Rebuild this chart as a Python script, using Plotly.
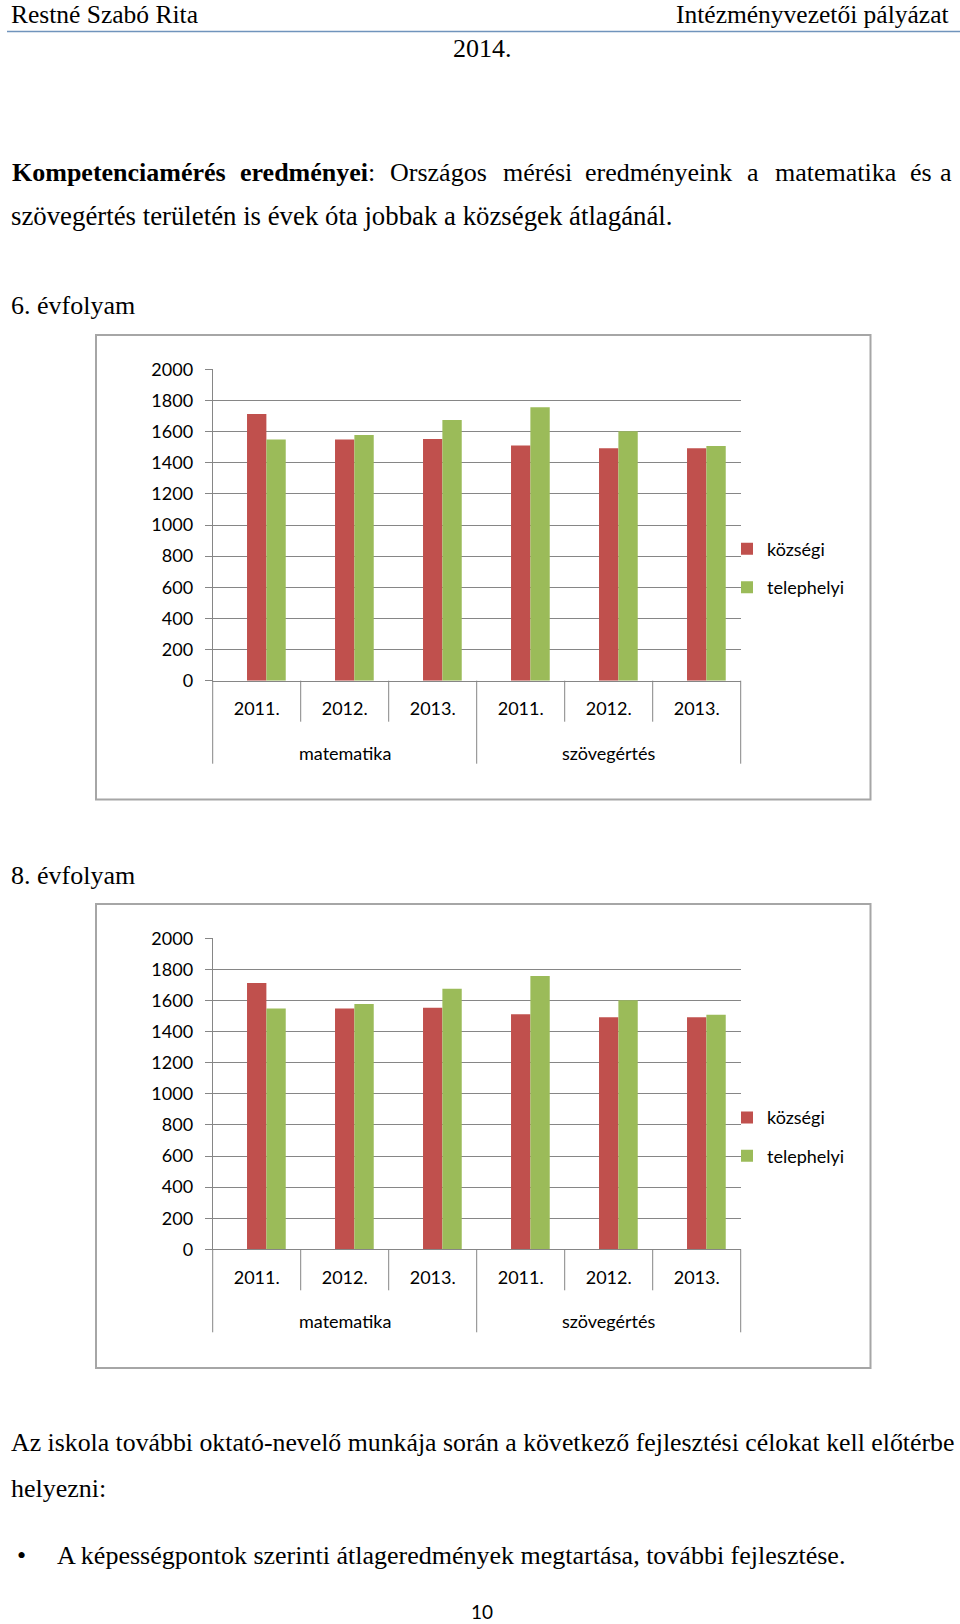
import plotly.graph_objects as go

W, H = 960, 1624

# chart data
years = ["2011.", "2012.", "2013.", "2011.", "2012.", "2013."]
subjects = ["matematika", "szövegértés"]
series_names = ["községi", "telephelyi"]
series_colors = ["#C0504D", "#9BBB59"]

kozsegi_6 = [1713, 1549, 1553, 1511, 1493, 1493]
telephelyi_6 = [1549, 1578, 1675, 1757, 1602, 1508]
kozsegi_8 = [1713, 1549, 1553, 1511, 1493, 1493]
telephelyi_8 = [1549, 1578, 1675, 1757, 1602, 1508]

y_ticks = list(range(0, 2001, 200))

SERIF = "Liberation Serif"
SANS = "Lato"
GRID = "#868686"


def py(px):
    """ pixel row (from top) -> paper y """
    return 1 - px / H


def text(s, x, y, size=26, anchor="left", family=SERIF):
    return dict(text=s, x=x / W, y=py(y), xref="paper", yref="paper",
                xanchor=anchor, yanchor="middle", showarrow=False,
                font=dict(family=family, size=size, color="black"))


# layout of the two charts in pixels
charts = [
    dict(values=(kozsegi_6, telephelyi_6), top=369.3, bottom=680.7,
         box=(96, 335, 870.5, 799.5), legend="legend", ax=""),
    dict(values=(kozsegi_8, telephelyi_8), top=938.3, bottom=1249.3,
         box=(96, 904, 870.5, 1368), legend="legend2", ax="2"),
]
plot_left, plot_right = 212.7, 740.7

fig = go.Figure()
shapes = []
annotations = []
x_pos = list(range(len(years)))

for c in charts:
    for i, (name, vals) in enumerate(zip(series_names, c["values"])):
        fig.add_trace(go.Bar(
            x=x_pos, y=vals, name=name,
            marker=dict(color=series_colors[i], line=dict(width=0)),
            width=0.22, offset=-0.11 + 0.22 * i,
            xaxis="x" + c["ax"], yaxis="y" + c["ax"],
            legend=c["legend"], legendgroup=c["legend"] + name,
        ))

    fig.update_layout(**{
        "xaxis" + c["ax"]: dict(
            domain=[plot_left / W, plot_right / W], anchor="y" + c["ax"],
            range=[-0.5, len(years) - 0.5], tickvals=x_pos, ticktext=years,
            showline=True, linecolor=GRID, linewidth=1, ticks="",
            showgrid=False, zeroline=False, ticklabelstandoff=12,
            tickfont=dict(family=SANS, size=18, color="black"),
        ),
        "yaxis" + c["ax"]: dict(
            domain=[py(c["bottom"]), py(c["top"])], anchor="x" + c["ax"],
            range=[0, 2000], tickvals=y_ticks, showgrid=True, gridcolor=GRID,
            gridwidth=1, showline=True, linecolor=GRID, linewidth=1,
            ticks="outside", ticklen=7, tickcolor=GRID, zeroline=False,
            ticklabelstandoff=8,
            tickfont=dict(family=SANS, size=18, color="black"),
        ),
        c["legend"]: dict(
            x=727 / W, y=py(c["bottom"] - 112.6), xanchor="left", yanchor="middle",
            bgcolor="rgba(0,0,0,0)", tracegroupgap=12, traceorder="grouped",
            font=dict(family=SANS, size=18, color="black"),
        ),
    })

    # outer box of the chart
    x0, y0, x1, y1 = c["box"]
    shapes.append(dict(type="rect", xref="paper", yref="paper",
                       x0=x0 / W, x1=x1 / W, y0=py(y1), y1=py(y0),
                       line=dict(color="#A6A6A6", width=2), layer="below"))

    # category dividers below the axis
    xd = "x" + c["ax"] + " domain"
    for k in range(len(years) + 1):
        length = 83 if k % 3 == 0 else 41
        shapes.append(dict(type="line", xref=xd, yref="paper",
                           x0=k / len(years), x1=k / len(years),
                           ysizemode="pixel", yanchor=py(c["bottom"]),
                           y0=0, y1=-length, line=dict(color=GRID, width=1)))

    # subject labels
    for j, subj in enumerate(subjects):
        annotations.append(dict(
            text=subj, x=j * 3 + 1, xref="x" + c["ax"], y=py(c["bottom"]),
            yref="paper", yshift=-72, showarrow=False, yanchor="middle",
            font=dict(family=SANS, size=18, color="black")))

# page text
annotations += [
    text("Restné Szabó Rita", 9, 15, size=25.5),
    text("Intézményvezetői pályázat", 951, 15, size=25.5, anchor="right"),
    text("2014.", 482, 48.5, anchor="center"),
    text("<b>Kompetenciamérés</b>", 10, 172),
    text("<b>eredményei</b>:", 237.6, 172),
    text("Országos", 387.6, 172),
    text("mérési", 501, 172),
    text("eredményeink", 583, 172),
    text("a", 745, 172),
    text("matematika", 772.8, 172),
    text("és", 907.5, 172),
    text("a", 954, 172, anchor="right"),
    text("szövegértés területén is évek óta jobbak a községek átlagánál.", 9, 216.5, size=26.8),
    text("6. évfolyam", 9, 305.5),
    text("8. évfolyam", 9, 875),
    text("Az iskola további oktató-nevelő munkája során a következő fejlesztési célokat kell előtérbe",
         9, 1442.6, size=25.8),
    text("helyezni:", 9, 1488),
    text("•", 21, 1555.5, anchor="center"),
    text("A képességpontok szerinti átlageredmények megtartása, további fejlesztése.", 55, 1555.5),
    text("10", 482, 1611, size=19, anchor="center", family=SANS),
]

# header rule
shapes.append(dict(type="line", xref="paper", yref="paper", x0=7 / W, x1=1,
                   y0=py(31.5), y1=py(31.5), line=dict(color="#7094BC", width=1.5)))

fig.update_layout(
    width=W, height=H,
    margin=dict(l=0, r=0, t=0, b=0, autoexpand=False),
    paper_bgcolor="white", plot_bgcolor="white",
    barmode="overlay", showlegend=True,
    shapes=shapes, annotations=annotations,
)

# the page has a default 8px body margin; drop it so the figure fills the window
fig.write_html("out.html", config={"displayModeBar": False},
               post_script="document.body.style.margin = '0';")
